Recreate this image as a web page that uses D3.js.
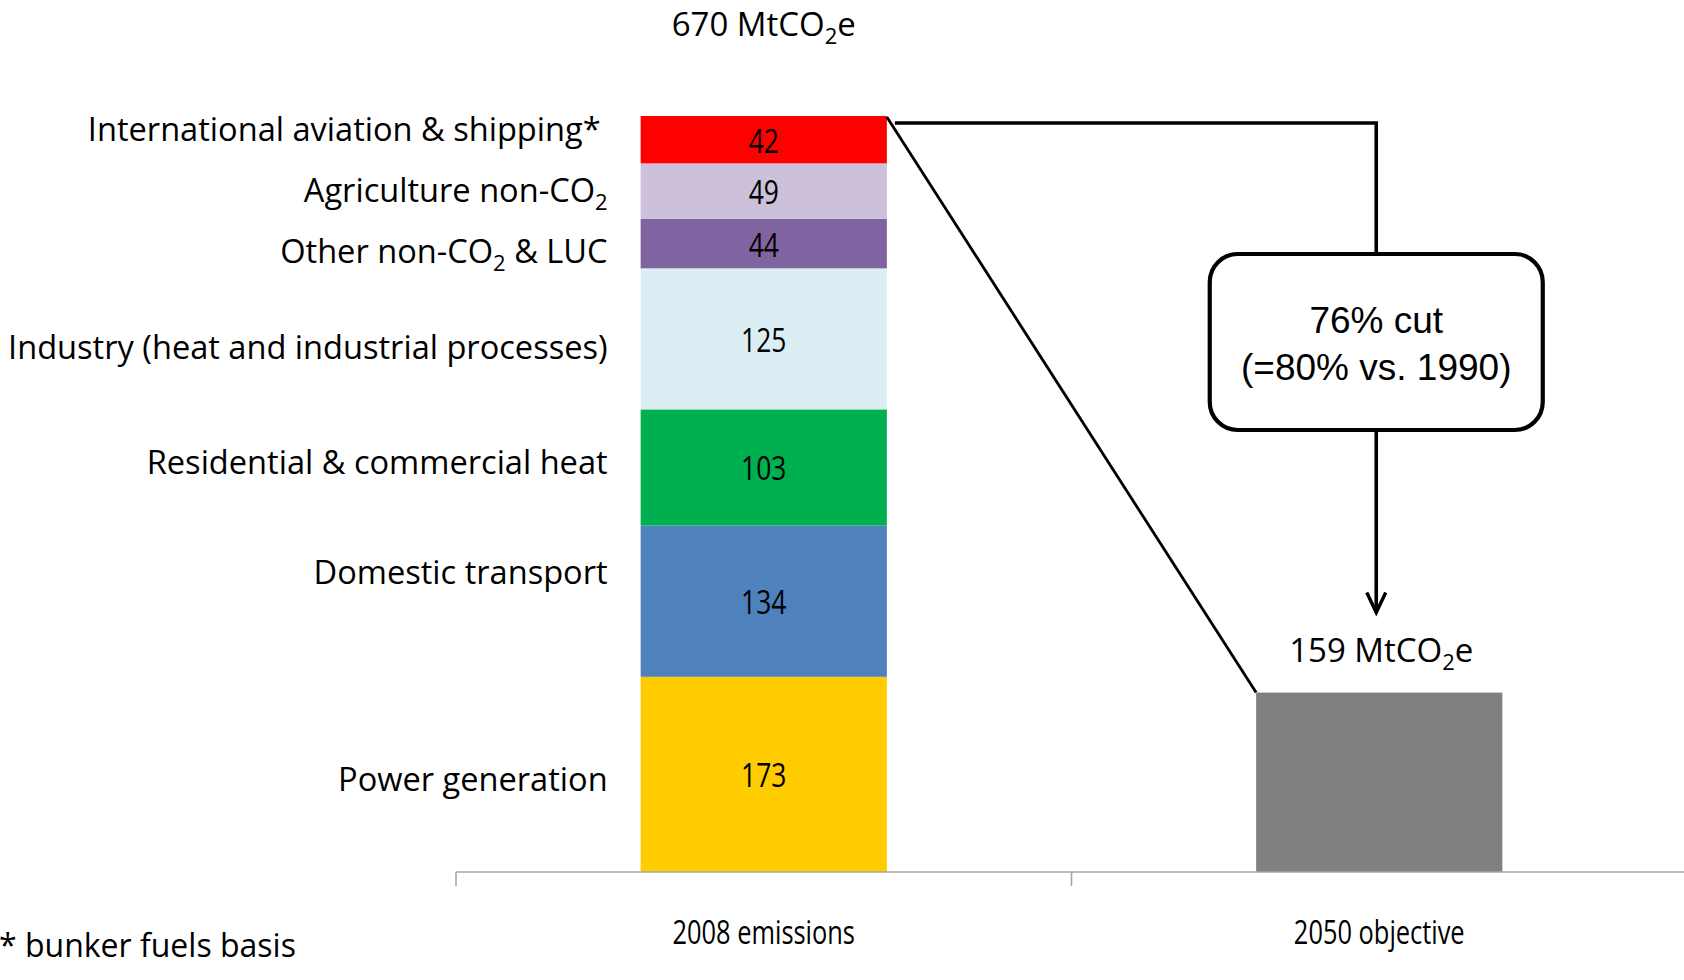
<!DOCTYPE html>
<html>
<head>
<meta charset="utf-8">
<script src="https://cdn.jsdelivr.net/npm/d3@7"></script>
<style>
  html, body { margin: 0; padding: 0; background: #fff; }
  svg { display: block; }
  text { white-space: pre; }
</style>
</head>
<body>
<svg id="chart" width="1684" height="980"></svg>
<script>
// Sectors, stacked bottom-to-top in the 2008 column (MtCO2e)
const sectors = [
  "Power generation",
  "Domestic transport",
  "Residential & commercial heat",
  "Industry (heat and industrial processes)",
  "Other non-CO2 & LUC",
  "Agriculture non-CO2",
  "International aviation & shipping*"
];
const emissions2008 = [173, 134, 103, 125, 44, 49, 42];
const sectorColors = ["#FFCC00", "#4F81BD", "#00B050", "#DAEEF3", "#8064A2", "#CCC0DA", "#FF0000"];
const categories = ["2008 emissions", "2050 objective"];
const target2050 = 159;
const unitLabel = "MtCO2e";
const cutLines = ["76% cut", "(=80% vs. 1990)"];
const footnote = "* bunker fuels basis";

// ---- layout ----
const svg = d3.select("#chart");
const baseY = 872, topY = 116;
const total = d3.sum(emissions2008);

const x = d3.scaleBand().domain(categories).range([456, 1687]).paddingInner(0).paddingOuter(0);
const y = d3.scaleLinear().domain([0, total]).range([baseY, topY]);
const barW = x.bandwidth() * 0.4;
const cx = c => x(c) + x.bandwidth() / 2;
const bx = c => cx(c) - barW / 2;

const FONT = "'Open Sans', 'Noto Sans', sans-serif";
const ARIAL = "'Liberation Sans', Arial, sans-serif";

// text with a subscripted "2" in "CO2"
function withSubscript(sel, str, subSize, shift) {
  const parts = str.split("CO2");
  parts.forEach((p, i) => {
    if (i > 0) {
      sel.append("tspan").text("CO");
      sel.append("tspan").attr("font-size", subSize).attr("dy", shift).text("2");
      sel.append("tspan").attr("dy", -shift).text(p);
    } else {
      sel.append("tspan").text(p);
    }
  });
  return sel;
}

// ---- stacked 2008 column ----
const row = {};
sectors.forEach((s, i) => row[s] = emissions2008[i]);
const layers = d3.stack().keys(sectors)([row]);

const c0 = categories[0], c1 = categories[1];

svg.append("g").selectAll("rect")
  .data(layers)
  .join("rect")
  .attr("x", bx(c0))
  .attr("y", d => y(d[0][1]))
  .attr("width", barW)
  .attr("height", d => y(d[0][0]) - y(d[0][1]))
  .attr("fill", (d, i) => sectorColors[i]);

// values inside the segments
svg.append("g").selectAll("g")
  .data(layers)
  .join("g")
  .attr("transform", d => `translate(${cx(c0)},${(y(d[0][0]) + y(d[0][1])) / 2 + 13}) scale(0.8,1)`)
  .append("text")
  .attr("text-anchor", "middle")
  .attr("font-family", FONT)
  .attr("font-size", 33)
  .attr("fill", "#000")
  .text((d, i) => emissions2008[i]);

// sector names to the left of the column
const labelShift = [17, -17, 7, 20, 19, 11, 1];
const labelInset = [0, 0, 0, 0, 0, 0, 7];
svg.append("g").selectAll("text")
  .data(layers)
  .join("text")
  .attr("x", (d, i) => bx(c0) - 33 - labelInset[i])
  .attr("y", (d, i) => (y(d[0][0]) + y(d[0][1])) / 2 + labelShift[i])
  .attr("text-anchor", "end")
  .attr("font-family", FONT)
  .attr("font-size", 32.6)
  .attr("fill", "#000")
  .each(function (d, i) { withSubscript(d3.select(this), sectors[i], 22, 8); });

// ---- 2050 column ----
svg.append("rect")
  .attr("x", bx(c1))
  .attr("y", y(target2050))
  .attr("width", barW)
  .attr("height", y(0) - y(target2050))
  .attr("fill", "#808080");

// totals above the columns
withSubscript(svg.append("text")
  .attr("x", cx(c0)).attr("y", 36)
  .attr("text-anchor", "middle")
  .attr("font-family", FONT).attr("font-size", 33).attr("fill", "#000"),
  total + " " + unitLabel, 22, 8);

withSubscript(svg.append("text")
  .attr("x", cx(c1) + 2).attr("y", y(target2050) - 31)
  .attr("text-anchor", "middle")
  .attr("font-family", FONT).attr("font-size", 33).attr("fill", "#000"),
  target2050 + " " + unitLabel, 22, 8);

// ---- category axis ----
const axis = svg.append("g");
axis.append("line")
  .attr("x1", x.range()[0]).attr("x2", 1684)
  .attr("y1", y(0)).attr("y2", y(0))
  .attr("stroke", "#A6A6A6").attr("stroke-width", 1.6);
const tickXs = categories.map(c => x(c)).concat([x(c1) + x.bandwidth()]);
axis.selectAll("line.tick")
  .data(tickXs)
  .join("line")
  .attr("class", "tick")
  .attr("x1", d => d).attr("x2", d => d)
  .attr("y1", y(0)).attr("y2", y(0) + 14)
  .attr("stroke", "#A6A6A6").attr("stroke-width", 1.6);
axis.selectAll("g.cat")
  .data(categories)
  .join("g")
  .attr("class", "cat")
  .attr("transform", d => `translate(${cx(d)},944) scale(0.77,1)`)
  .append("text")
  .attr("text-anchor", "middle")
  .attr("font-family", FONT)
  .attr("font-size", 33)
  .attr("fill", "#000")
  .text(d => d);

// ---- connector from 2008 total to 2050 objective ----
const topRightX = bx(c0) + barW;
const boxCx = cx(c1) - 3;
const lineY = y(total) + 7;

svg.append("line")
  .attr("x1", topRightX).attr("y1", y(total) + 1)
  .attr("x2", bx(c1)).attr("y2", y(target2050))
  .attr("stroke", "#000").attr("stroke-width", 2.8);

svg.append("polyline")
  .attr("points", [[topRightX + 8, lineY], [boxCx, lineY], [boxCx, 255]].map(p => p.join(",")).join(" "))
  .attr("fill", "none").attr("stroke", "#000").attr("stroke-width", 3.6);

// callout box
const boxW = 333, boxH = 176, boxTop = 254;
svg.append("rect")
  .attr("x", boxCx - boxW / 2).attr("y", boxTop)
  .attr("width", boxW).attr("height", boxH)
  .attr("rx", 28).attr("ry", 28)
  .attr("fill", "#fff").attr("stroke", "#000").attr("stroke-width", 4.2);

svg.append("g").selectAll("text")
  .data(cutLines)
  .join("text")
  .attr("x", boxCx)
  .attr("y", (d, i) => 333 + i * 47)
  .attr("text-anchor", "middle")
  .attr("font-family", ARIAL)
  .attr("font-size", 37)
  .attr("fill", "#000")
  .text(d => d);

// arrow down to the 2050 label
const tipY = y(target2050) - 80;
svg.append("line")
  .attr("x1", boxCx).attr("x2", boxCx)
  .attr("y1", boxTop + boxH).attr("y2", tipY)
  .attr("stroke", "#000").attr("stroke-width", 3.6);
svg.append("polyline")
  .attr("points", [[boxCx - 9.5, tipY - 20], [boxCx, tipY], [boxCx + 9.5, tipY - 20]].map(p => p.join(",")).join(" "))
  .attr("fill", "none").attr("stroke", "#000").attr("stroke-width", 3.4);

// footnote
svg.append("text")
  .attr("x", -1).attr("y", 957)
  .attr("font-family", FONT).attr("font-size", 32).attr("fill", "#000")
  .text(footnote);
</script>
</body>
</html>
